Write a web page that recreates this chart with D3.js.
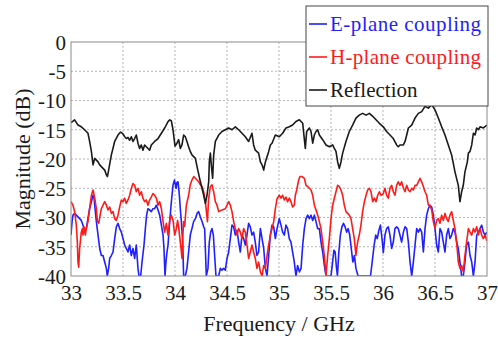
<!DOCTYPE html>
<head>
<meta charset="utf-8">
<title>Coupling and reflection</title>
<style>
  body { margin: 0; background: #fff; }
  svg text { font-family: "Liberation Serif", "Times New Roman", serif; }
</style>
</head>
<body>
<script src="https://d3js.org/d3.v7.min.js"></script>
<script>
// tick labels
let xTicks = [33, 33.5, 34, 34.5, 35, 35.5, 36, 36.5, 37];
let yTicks = [0, -5, -10, -15, -20, -25, -30, -35, -40];

let seriesNames = ["E-plane coupling", "H-plane coupling", "Reflection"];

// [frequency GHz, magnitude dB]
let ePlane = [[33.000,-33.0],[33.010,-30.7],[33.019,-29.6],[33.035,-29.3],[33.051,-29.6],[33.067,-29.9],[33.083,-30.2],[33.099,-30.5],[33.115,-31.3],[33.131,-32.5],[33.147,-31.9],[33.163,-30.2],[33.179,-28.5],[33.196,-27.3],[33.212,-26.2],[33.221,-26.5],[33.228,-27.9],[33.244,-30.7],[33.260,-33.0],[33.276,-35.3],[33.292,-36.5],[33.308,-36.5],[33.324,-37.6],[33.340,-38.7],[33.349,-40.0],[33.362,-38.7],[33.372,-37.0],[33.388,-36.5],[33.404,-35.9],[33.420,-33.6],[33.436,-31.6],[33.452,-31.0],[33.468,-31.9],[33.484,-32.5],[33.500,-33.6],[33.516,-34.7],[33.532,-35.3],[33.548,-35.9],[33.564,-34.7],[33.580,-36.5],[33.596,-35.3],[33.612,-37.0],[33.628,-34.7],[33.644,-38.7],[33.654,-40.0],[33.670,-40.0],[33.683,-37.6],[33.702,-34.7],[33.715,-31.9],[33.727,-29.6],[33.740,-28.5],[33.756,-28.7],[33.772,-29.0],[33.788,-28.5],[33.804,-28.5],[33.821,-27.9],[33.837,-28.7],[33.853,-29.6],[33.869,-31.3],[33.885,-33.0],[33.894,-35.3],[33.904,-40.0],[33.913,-37.6],[33.923,-35.9],[33.933,-34.7],[33.949,-30.7],[33.965,-27.3],[33.981,-24.5],[33.995,-23.6],[34.010,-25.0],[34.019,-24.0],[34.029,-23.9],[34.042,-26.2],[34.051,-28.5],[34.061,-30.7],[34.074,-34.2],[34.083,-40.0],[34.099,-40.0],[34.115,-38.7],[34.131,-35.9],[34.147,-33.0],[34.163,-31.9],[34.179,-30.7],[34.196,-30.2],[34.212,-29.3],[34.228,-29.0],[34.244,-29.9],[34.260,-30.7],[34.276,-31.6],[34.285,-31.9],[34.292,-35.3],[34.301,-40.0],[34.317,-38.7],[34.330,-34.2],[34.343,-32.5],[34.356,-31.9],[34.369,-33.0],[34.381,-36.5],[34.394,-40.0],[34.420,-40.0],[34.436,-38.7],[34.452,-39.0],[34.468,-38.7],[34.484,-39.0],[34.500,-37.0],[34.516,-35.9],[34.532,-33.6],[34.548,-31.3],[34.564,-31.6],[34.580,-33.0],[34.596,-32.2],[34.612,-34.2],[34.628,-35.9],[34.644,-33.0],[34.660,-33.6],[34.676,-34.7],[34.692,-33.0],[34.708,-31.0],[34.724,-31.6],[34.740,-33.0],[34.756,-32.5],[34.772,-34.2],[34.788,-36.5],[34.804,-35.9],[34.821,-31.9],[34.837,-33.6],[34.853,-35.3],[34.869,-38.7],[34.885,-40.0],[34.901,-36.5],[34.917,-33.0],[34.933,-31.3],[34.949,-31.6],[34.965,-33.6],[34.981,-31.9],[35.003,-30.2],[35.019,-31.3],[35.035,-32.5],[35.051,-33.0],[35.067,-31.3],[35.083,-31.9],[35.099,-33.6],[35.115,-34.2],[35.131,-35.9],[35.147,-37.6],[35.163,-40.0],[35.179,-38.2],[35.196,-39.3],[35.212,-38.7],[35.228,-34.7],[35.244,-31.9],[35.260,-30.2],[35.276,-29.6],[35.292,-30.2],[35.308,-29.6],[35.324,-30.5],[35.340,-29.6],[35.356,-30.7],[35.372,-31.9],[35.388,-31.9],[35.404,-34.2],[35.420,-35.9],[35.436,-38.2],[35.452,-40.0],[35.500,-40.0],[35.516,-37.5],[35.528,-35.6],[35.540,-35.9],[35.552,-38.5],[35.562,-40.0],[35.575,-36.0],[35.590,-33.0],[35.605,-31.6],[35.620,-31.0],[35.636,-31.6],[35.650,-32.5],[35.665,-31.9],[35.680,-33.0],[35.695,-35.3],[35.710,-37.6],[35.725,-36.5],[35.740,-38.7],[35.760,-40.0],[35.880,-40.0],[35.900,-37.0],[35.915,-34.7],[35.930,-33.0],[35.945,-33.6],[35.960,-32.2],[35.975,-31.3],[35.990,-33.5],[36.003,-36.0],[36.019,-33.0],[36.035,-31.9],[36.051,-31.6],[36.067,-33.0],[36.083,-35.3],[36.099,-34.2],[36.115,-31.9],[36.131,-31.6],[36.147,-31.9],[36.163,-33.0],[36.179,-34.2],[36.196,-32.5],[36.212,-31.6],[36.228,-31.9],[36.244,-34.2],[36.260,-37.6],[36.276,-40.0],[36.292,-37.6],[36.308,-34.7],[36.324,-31.9],[36.340,-32.5],[36.356,-31.9],[36.372,-32.5],[36.388,-35.9],[36.404,-31.9],[36.420,-29.6],[36.436,-28.5],[36.452,-27.9],[36.468,-28.2],[36.484,-29.6],[36.500,-31.9],[36.516,-34.7],[36.532,-35.9],[36.548,-31.9],[36.564,-32.5],[36.580,-34.2],[36.596,-35.9],[36.612,-33.0],[36.628,-31.9],[36.644,-33.6],[36.660,-33.0],[36.676,-31.9],[36.692,-32.5],[36.708,-34.2],[36.724,-35.3],[36.740,-37.6],[36.756,-40.0],[36.772,-40.0],[36.788,-37.6],[36.804,-34.7],[36.821,-34.2],[36.837,-36.5],[36.853,-37.6],[36.869,-40.0],[36.885,-37.6],[36.901,-33.0],[36.917,-32.5],[36.933,-31.9],[36.949,-31.3],[36.965,-32.5],[36.981,-33.0],[37.000,-32.5]];

let hPlane = [[33.000,-27.3],[33.019,-27.9],[33.035,-29.0],[33.051,-31.3],[33.061,-34.2],[33.067,-37.6],[33.074,-38.5],[33.083,-35.3],[33.099,-32.5],[33.109,-31.9],[33.115,-33.0],[33.125,-31.6],[33.138,-33.0],[33.147,-31.9],[33.163,-30.7],[33.179,-28.5],[33.196,-26.2],[33.212,-25.3],[33.228,-26.7],[33.244,-28.5],[33.254,-30.7],[33.267,-31.0],[33.280,-29.6],[33.292,-28.5],[33.308,-27.9],[33.324,-27.3],[33.340,-27.9],[33.356,-28.7],[33.372,-28.2],[33.388,-29.3],[33.404,-29.0],[33.420,-30.2],[33.436,-30.5],[33.452,-29.6],[33.468,-28.2],[33.484,-27.0],[33.500,-27.3],[33.516,-26.7],[33.532,-27.6],[33.548,-27.0],[33.564,-26.2],[33.580,-25.0],[33.596,-24.2],[33.612,-24.5],[33.628,-25.6],[33.644,-25.0],[33.660,-26.2],[33.676,-25.6],[33.692,-26.7],[33.708,-27.3],[33.724,-27.0],[33.740,-27.9],[33.756,-27.0],[33.772,-26.5],[33.788,-25.9],[33.804,-26.2],[33.821,-26.7],[33.837,-27.9],[33.853,-27.3],[33.869,-28.5],[33.885,-30.7],[33.901,-32.5],[33.917,-31.0],[33.933,-33.0],[33.949,-30.5],[33.965,-29.6],[33.981,-30.5],[33.997,-33.0],[34.013,-31.9],[34.025,-30.5],[34.035,-31.6],[34.051,-34.2],[34.060,-35.6],[34.067,-37.0],[34.076,-33.0],[34.083,-30.7],[34.093,-31.5],[34.109,-27.9],[34.131,-26.2],[34.147,-24.4],[34.163,-23.6],[34.180,-23.0],[34.196,-23.3],[34.212,-23.6],[34.228,-23.9],[34.244,-24.4],[34.260,-24.7],[34.276,-25.6],[34.292,-27.3],[34.302,-29.0],[34.312,-30.7],[34.322,-27.0],[34.340,-24.7],[34.356,-24.4],[34.372,-25.6],[34.388,-27.3],[34.404,-27.9],[34.420,-29.0],[34.452,-28.7],[34.484,-28.5],[34.516,-27.3],[34.532,-27.9],[34.548,-29.0],[34.564,-30.7],[34.580,-31.9],[34.596,-33.0],[34.612,-31.9],[34.628,-32.5],[34.644,-33.6],[34.660,-31.9],[34.676,-32.5],[34.692,-34.7],[34.708,-37.0],[34.724,-35.9],[34.740,-34.7],[34.756,-35.9],[34.772,-37.0],[34.788,-38.7],[34.804,-37.6],[34.821,-39.3],[34.837,-40.0],[34.853,-38.2],[34.869,-38.7],[34.885,-36.5],[34.901,-34.7],[34.917,-33.0],[34.933,-31.9],[34.949,-30.7],[34.965,-28.5],[34.981,-26.8],[35.003,-26.2],[35.019,-26.7],[35.035,-26.2],[35.051,-27.0],[35.067,-26.5],[35.083,-27.3],[35.099,-26.7],[35.115,-27.3],[35.131,-28.2],[35.147,-27.9],[35.157,-26.2],[35.170,-25.3],[35.189,-23.6],[35.202,-23.0],[35.221,-23.0],[35.244,-23.3],[35.260,-24.5],[35.276,-24.7],[35.292,-25.0],[35.308,-25.3],[35.324,-26.2],[35.340,-27.9],[35.356,-28.7],[35.372,-29.6],[35.388,-30.7],[35.404,-31.9],[35.420,-34.2],[35.436,-36.5],[35.452,-40.0],[35.468,-36.5],[35.484,-33.6],[35.500,-30.2],[35.516,-27.9],[35.532,-26.7],[35.548,-25.6],[35.564,-24.5],[35.580,-24.7],[35.596,-25.3],[35.612,-26.2],[35.628,-27.9],[35.644,-29.0],[35.660,-29.3],[35.676,-29.6],[35.692,-30.2],[35.708,-31.9],[35.724,-33.6],[35.740,-36.5],[35.747,-35.3],[35.756,-34.2],[35.772,-33.0],[35.788,-31.3],[35.804,-29.0],[35.821,-27.3],[35.837,-26.2],[35.853,-25.3],[35.869,-25.0],[35.885,-25.6],[35.901,-27.3],[35.917,-26.7],[35.933,-27.3],[35.949,-26.2],[35.965,-25.6],[35.981,-26.2],[36.003,-25.9],[36.019,-25.0],[36.035,-26.2],[36.051,-26.7],[36.067,-25.0],[36.083,-24.5],[36.099,-25.6],[36.115,-26.2],[36.131,-24.5],[36.147,-23.9],[36.163,-24.5],[36.179,-23.9],[36.196,-25.0],[36.212,-25.6],[36.228,-24.5],[36.244,-25.3],[36.260,-25.6],[36.276,-25.0],[36.292,-25.3],[36.308,-24.5],[36.324,-24.5],[36.340,-23.9],[36.356,-23.3],[36.372,-23.9],[36.388,-24.7],[36.404,-25.6],[36.420,-26.2],[36.436,-27.9],[36.452,-27.9],[36.468,-28.7],[36.484,-30.7],[36.500,-31.8],[36.516,-30.5],[36.532,-30.2],[36.548,-31.0],[36.564,-29.6],[36.580,-30.5],[36.596,-29.3],[36.612,-30.2],[36.628,-30.7],[36.644,-29.6],[36.660,-29.0],[36.676,-30.5],[36.692,-31.9],[36.708,-34.2],[36.724,-37.6],[36.740,-38.7],[36.756,-38.2],[36.772,-39.3],[36.788,-36.5],[36.804,-34.2],[36.821,-31.9],[36.837,-32.5],[36.853,-33.0],[36.869,-31.9],[36.885,-32.5],[36.901,-31.6],[36.917,-33.0],[36.933,-31.9],[36.949,-33.0],[36.965,-33.6],[36.981,-33.0],[37.000,-34.0]];

let reflection = [[33.000,-13.8],[33.035,-13.3],[33.067,-14.2],[33.099,-14.5],[33.131,-15.0],[33.163,-15.6],[33.179,-17.0],[33.196,-18.7],[33.212,-21.0],[33.228,-19.9],[33.244,-20.2],[33.260,-20.5],[33.276,-21.0],[33.292,-21.3],[33.308,-21.6],[33.324,-21.9],[33.340,-22.7],[33.350,-23.0],[33.362,-21.9],[33.388,-19.3],[33.420,-17.0],[33.452,-15.9],[33.477,-15.4],[33.500,-15.7],[33.516,-16.2],[33.532,-16.5],[33.548,-16.3],[33.564,-16.8],[33.580,-16.2],[33.596,-17.0],[33.612,-16.5],[33.628,-15.9],[33.644,-17.3],[33.660,-18.2],[33.676,-17.6],[33.692,-18.5],[33.708,-17.6],[33.724,-17.9],[33.740,-18.2],[33.756,-18.5],[33.772,-17.6],[33.804,-17.0],[33.837,-16.5],[33.869,-15.6],[33.901,-14.7],[33.933,-13.6],[33.950,-13.3],[33.965,-13.5],[33.981,-15.0],[34.000,-17.8],[34.019,-17.3],[34.035,-16.7],[34.051,-18.2],[34.067,-17.6],[34.083,-15.9],[34.099,-16.2],[34.115,-17.0],[34.131,-17.9],[34.147,-18.7],[34.163,-19.3],[34.196,-19.9],[34.212,-21.3],[34.244,-23.9],[34.276,-26.2],[34.292,-27.6],[34.308,-26.2],[34.324,-23.9],[34.330,-20.5],[34.340,-19.0],[34.349,-21.0],[34.362,-23.3],[34.372,-19.3],[34.388,-17.0],[34.420,-15.9],[34.452,-15.3],[34.484,-15.0],[34.516,-14.7],[34.548,-15.0],[34.580,-14.5],[34.612,-15.0],[34.644,-15.6],[34.676,-16.2],[34.708,-17.0],[34.740,-15.6],[34.756,-17.6],[34.772,-18.5],[34.804,-19.0],[34.821,-20.5],[34.837,-21.0],[34.853,-21.9],[34.869,-20.5],[34.901,-18.7],[34.917,-17.6],[34.933,-17.3],[34.965,-15.9],[35.003,-16.2],[35.035,-15.6],[35.067,-14.7],[35.099,-14.5],[35.131,-14.2],[35.163,-13.6],[35.196,-13.3],[35.228,-13.9],[35.253,-18.2],[35.266,-15.3],[35.292,-14.7],[35.308,-15.3],[35.324,-17.3],[35.340,-15.9],[35.356,-15.3],[35.372,-15.0],[35.388,-15.9],[35.420,-16.7],[35.452,-17.6],[35.484,-17.9],[35.516,-17.6],[35.532,-18.2],[35.548,-18.7],[35.564,-20.5],[35.580,-21.6],[35.596,-20.5],[35.612,-19.0],[35.644,-17.0],[35.676,-15.3],[35.708,-14.2],[35.740,-13.0],[35.772,-12.5],[35.804,-12.2],[35.837,-12.5],[35.869,-12.2],[35.901,-12.7],[35.933,-13.3],[35.965,-13.9],[36.003,-14.5],[36.035,-15.3],[36.067,-15.9],[36.099,-16.5],[36.131,-17.6],[36.147,-17.9],[36.163,-17.6],[36.196,-17.6],[36.212,-17.0],[36.228,-15.9],[36.244,-14.7],[36.276,-14.2],[36.308,-13.0],[36.340,-12.2],[36.372,-11.9],[36.404,-11.0],[36.436,-11.3],[36.468,-10.7],[36.500,-11.6],[36.532,-13.0],[36.564,-14.5],[36.596,-15.9],[36.628,-17.6],[36.660,-19.3],[36.692,-22.2],[36.724,-24.5],[36.740,-27.3],[36.756,-25.6],[36.772,-24.5],[36.788,-22.2],[36.811,-20.5],[36.821,-19.0],[36.837,-18.7],[36.853,-17.6],[36.869,-15.6],[36.885,-15.9],[36.901,-14.7],[36.917,-15.0],[36.933,-14.5],[36.965,-14.7],[37.000,-14.2]];

let width = 498;
let height = 338;
let margin = {left: 71, right: 11, top: 42, bottom: 62};
let serif = "'Liberation Serif', 'Times New Roman', serif";

let svg = d3.select("body").append("svg")
    .attr("width", width)
    .attr("height", height)
    .attr("font-family", serif);

svg.append("rect").attr("width", width).attr("height", height).attr("fill", "#fff");

let x = d3.scaleLinear().domain([33, 37]).range([margin.left, width - margin.right]);
let y = d3.scaleLinear().domain([-40, 0]).range([height - margin.bottom, margin.top]);

// dotted grid
svg.append("g").selectAll("line")
    .data(xTicks.slice(1, -1))
    .join("line")
    .attr("x1", d => x(d)).attr("x2", d => x(d))
    .attr("y1", y(0)).attr("y2", y(-40))
    .attr("stroke", "#b5b5b5")
    .attr("stroke-dasharray", "2,2");

svg.append("g").selectAll("line")
    .data(yTicks.slice(1, -1))
    .join("line")
    .attr("x1", x(33)).attr("x2", x(37))
    .attr("y1", d => y(d)).attr("y2", d => y(d))
    .attr("stroke", "#b5b5b5")
    .attr("stroke-dasharray", "2,2");

svg.append("clipPath").attr("id", "plot")
    .append("rect")
    .attr("x", x(33)).attr("y", y(0))
    .attr("width", x(37) - x(33)).attr("height", y(-40) - y(0));

let line = d3.line()
    .x(d => x(d[0]))
    .y(d => y(d[1]));

let colors = ["#1f1fff", "#ff1a1a", "#1a1a1a"];
let allSeries = [ePlane, hPlane, reflection];

svg.append("g").attr("clip-path", "url(#plot)")
    .selectAll("path")
    .data(allSeries)
    .join("path")
    .attr("d", line)
    .attr("fill", "none")
    .attr("stroke", (_, i) => colors[i])
    .attr("stroke-width", 1.6)
    .attr("stroke-linejoin", "round");

// frame
svg.append("rect")
    .attr("x", x(33)).attr("y", y(0))
    .attr("width", x(37) - x(33)).attr("height", y(-40) - y(0))
    .attr("fill", "none")
    .attr("stroke", "#8a8a8a");

// axes (plain hyphen for the minus sign, as in the original)
let xAxis = svg.append("g")
    .attr("transform", `translate(0,${y(-40)})`)
    .call(d3.axisBottom(x).tickValues(xTicks).tickSize(0).tickPadding(9).tickFormat(d => String(d)));
let yAxis = svg.append("g")
    .attr("transform", `translate(${x(33)},0)`)
    .call(d3.axisLeft(y).tickValues(yTicks).tickSize(0).tickPadding(5).tickFormat(d => String(d)));

[xAxis, yAxis].forEach(a => {
    a.attr("font-family", serif).attr("font-size", 21);
    a.select(".domain").remove();
    a.selectAll("text").attr("fill", "#1a1a1a");
});
yAxis.selectAll("text").attr("dy", "0.35em");

svg.append("text")
    .attr("x", (x(33) + x(37)) / 2)
    .attr("y", 331)
    .attr("text-anchor", "middle")
    .attr("fill", "#1a1a1a")
    .attr("font-size", 22)
    .text("Frequency / GHz");

svg.append("text")
    .attr("transform", `translate(30,${(y(0) + y(-40)) / 2}) rotate(-90)`)
    .attr("text-anchor", "middle")
    .attr("fill", "#1a1a1a")
    .attr("font-size", 22)
    .text("Magnitude (dB)");

// legend
let legend = svg.append("g");
legend.append("rect")
    .attr("x", 306).attr("y", 6)
    .attr("width", 182).attr("height", 100)
    .attr("fill", "#fff")
    .attr("stroke", "#444");

seriesNames.forEach(function (name, i) {
    let ly = 24 + i * 33;
    legend.append("line")
        .attr("x1", 309).attr("x2", 327)
        .attr("y1", ly).attr("y2", ly)
        .attr("stroke", colors[i])
        .attr("stroke-width", 1.6);
    let t = legend.append("text")
        .attr("x", 330)
        .attr("y", ly + 7)
        .attr("fill", i === 2 ? "#1a1a1a" : colors[i])
        .attr("font-size", 21)
        .text(name);
    if (i < 2) t.attr("textLength", 151).attr("lengthAdjust", "spacing");
});
</script>
</body>
